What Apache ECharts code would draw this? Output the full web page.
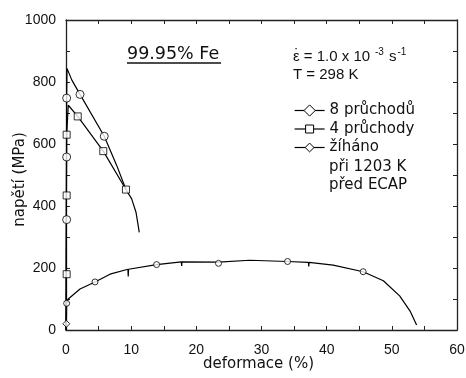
<!DOCTYPE html>
<html><head><meta charset="utf-8">
<script src="https://cdn.jsdelivr.net/npm/echarts@6/dist/echarts.min.js"></script>
<style>html,body{margin:0;padding:0;background:#fff}#c{width:466px;height:378px}</style>
</head><body><div id="c"></div>
<script>
// ---- data ----
const xTickLabels = [0, 10, 20, 30, 40, 50, 60];
const yTickLabels = [0, 200, 400, 600, 800, 1000];
const seriesNames = ['8 průchodů', '4 průchody', 'žíháno'];

// 8 passes: curve and marker points
const pass8Curve = [[0,0],[0.1,750],[0.15,844],[0.9,806],[2.15,760],[5.87,625],[7.78,531],[9.2,453],[10.08,423],[10.74,380],[11.0,347],[11.24,315]];
const pass8Points = [[0.1,356],[0.1,558],[0.1,748],[2.15,760],[5.87,625]];

// 4 passes
const pass4Curve = [[0,0],[0.1,630],[0.35,725],[1.8,689],[5.72,577],[9.2,453]];
const pass4Points = [[0.1,180],[0.1,434],[0.1,630],[1.8,689],[5.72,577],[9.2,453]];

// annealed at 1203 K before ECAP
const annealCurve = [[0,0],[0.05,20],[0.1,86],[0.3,99],[2.15,132],[4.45,155],[6.75,180],[9.5,196],[9.55,173],[9.6,196],[13.9,211],[17.7,220],[17.75,207],[17.8,220],[23.4,219],[28.2,225],[34,221],[37.2,218],[37.25,205],[37.3,218],[41,209],[45.6,188],[48.7,159],[51.2,110],[52.8,61],[53.8,16]];
const annealPoints = [[0.1,86],[4.45,155],[13.9,211],[23.4,215],[34,221],[45.6,188]];
const annealStartPoint = [[0.05,20]];

// ---- chart ----
const LS = 'Liberation Sans', DV = 'DejaVu Sans';
const INK = '#111';
const chart = echarts.init(document.getElementById('c'), null, {renderer: 'canvas'});

function axisBase(extra) {
  return Object.assign({
    type: 'value',
    axisLine: {show: true, onZero: false, lineStyle: {color: '#222', width: 1.3}},
    axisTick: {show: true, inside: true, length: 4, lineStyle: {color: '#222', width: 1}},
    minorTick: {show: true, splitNumber: 2, length: 4, lineStyle: {color: '#222', width: 1}},
    splitLine: {show: false},
    minorSplitLine: {show: false}
  }, extra);
}

const lineStyle = {color: '#000', width: 1.2};
const mk = {color: '#fff', borderColor: '#000', borderWidth: 1};
const legendBase = {orient: 'vertical', padding: 0, itemWidth: 30, selectedMode: false,
  textStyle: {fontFamily: DV, fontSize: 15, color: INK},
  lineStyle: {width: 1.2, color: '#000'}, itemStyle: {borderWidth: 1, borderColor: '#000', color: '#fff'}};

const option = {
  animation: false,
  backgroundColor: '#fff',
  textStyle: {fontFamily: LS, color: INK},
  grid: {left: 66, right: 9, top: 20, bottom: 48, containLabel: false, outerBoundsMode: 'none'},
  xAxis: [
    axisBase({
      position: 'bottom', min: xTickLabels[0], max: xTickLabels[xTickLabels.length - 1],
      interval: xTickLabels[1] - xTickLabels[0],
      axisLabel: {show: true, margin: 13, fontFamily: LS, fontSize: 14, color: INK, formatter: v => String(v)},
      name: 'deformace (%)', nameLocation: 'middle', nameGap: 27, nameMoveOverlap: false,
      nameTextStyle: {fontFamily: DV, fontSize: 15, color: INK, padding: [0, 6, 0, 0]}
    }),
    axisBase({
      position: 'top', min: xTickLabels[0], max: xTickLabels[xTickLabels.length - 1],
      interval: xTickLabels[1] - xTickLabels[0], axisLabel: {show: false}
    })
  ],
  yAxis: [
    axisBase({
      position: 'left', min: yTickLabels[0], max: yTickLabels[yTickLabels.length - 1],
      interval: yTickLabels[1] - yTickLabels[0],
      axisLabel: {show: true, margin: 10, fontFamily: LS, fontSize: 14, color: INK, formatter: v => String(v)},
      name: 'napětí (MPa)', nameLocation: 'middle', nameGap: 38, nameMoveOverlap: false,
      nameTextStyle: {fontFamily: DV, fontSize: 15, color: INK, padding: [0, 9, 0, 0]}
    }),
    axisBase({
      position: 'right', min: yTickLabels[0], max: yTickLabels[yTickLabels.length - 1],
      interval: yTickLabels[1] - yTickLabels[0], axisLabel: {show: false}
    })
  ],
  legend: [
    Object.assign({}, legendBase, {data: [seriesNames[0]], left: 294, top: 103, itemHeight: 14}),
    Object.assign({}, legendBase, {data: [seriesNames[1]], left: 294, top: 121.5, itemHeight: 10}),
    Object.assign({}, legendBase, {data: [seriesNames[2]], left: 294, top: 140, itemHeight: 11})
  ],
  graphic: [
    {type: 'text', left: 127, top: 45, silent: true,
     style: {text: '99.95% Fe', font: '17.5px "DejaVu Sans"', fill: INK}},
    {type: 'line', silent: true, shape: {x1: 127, y1: 63, x2: 221, y2: 63},
     style: {stroke: INK, lineWidth: 1.3}},
    {type: 'text', x: 293, y: 56.5, silent: true,
     style: {text: 'ε = 1.0 x 10', font: '15px "Liberation Sans"', fill: INK, verticalAlign: 'middle'}},
    {type: 'text', x: 294.3, y: 54.5, silent: true,
     style: {text: '˙', font: '15px "Liberation Sans"', fill: INK, verticalAlign: 'middle'}},
    {type: 'text', x: 375, y: 52, silent: true,
     style: {text: '-3', font: '10px "Liberation Sans"', fill: INK, verticalAlign: 'middle'}},
    {type: 'text', x: 389, y: 56.5, silent: true,
     style: {text: 's', font: '15px "Liberation Sans"', fill: INK, verticalAlign: 'middle'}},
    {type: 'text', x: 397.5, y: 52, silent: true,
     style: {text: '-1', font: '10px "Liberation Sans"', fill: INK, verticalAlign: 'middle'}},
    {type: 'text', x: 293, y: 74.7, silent: true,
     style: {text: 'T = 298 K', font: '15px "Liberation Sans"', fill: INK, verticalAlign: 'middle'}},
    {type: 'text', x: 329, y: 166.8, silent: true,
     style: {text: 'při 1203 K', font: '15px "DejaVu Sans"', fill: INK, verticalAlign: 'middle'}},
    {type: 'text', x: 329, y: 185.2, silent: true,
     style: {text: 'před ECAP', font: '15px "DejaVu Sans"', fill: INK, verticalAlign: 'middle'}}
  ],
  series: [
    // legend-only entries
    {name: seriesNames[0], type: 'line', data: [], symbol: 'diamond', itemStyle: mk, lineStyle: lineStyle},
    {name: seriesNames[1], type: 'line', data: [], symbol: 'rect', itemStyle: mk, lineStyle: lineStyle},
    {name: seriesNames[2], type: 'line', data: [], symbol: 'diamond', itemStyle: mk, lineStyle: lineStyle},
    // curves
    {name: 'c8', type: 'line', data: pass8Curve, showSymbol: false, symbol: 'none', lineStyle: lineStyle, z: 2},
    {name: 'c4', type: 'line', data: pass4Curve, showSymbol: false, symbol: 'none', lineStyle: lineStyle, z: 2},
    {name: 'ca', type: 'line', data: annealCurve, showSymbol: false, symbol: 'none', lineStyle: lineStyle, z: 2},
    // markers
    {name: 'm8', type: 'scatter', data: pass8Points, symbol: 'circle', symbolSize: 8, itemStyle: mk, z: 3},
    {name: 'm4', type: 'scatter', data: pass4Points, symbol: 'rect', symbolSize: 7, itemStyle: mk, z: 3},
    {name: 'ma', type: 'scatter', data: annealPoints, symbol: 'circle', symbolSize: 6, itemStyle: mk, z: 3},
    {name: 'ma0', type: 'scatter', data: annealStartPoint, symbol: 'diamond', symbolSize: 7, itemStyle: mk, z: 3}
  ]
};
chart.setOption(option);
</script>
</body></html>
